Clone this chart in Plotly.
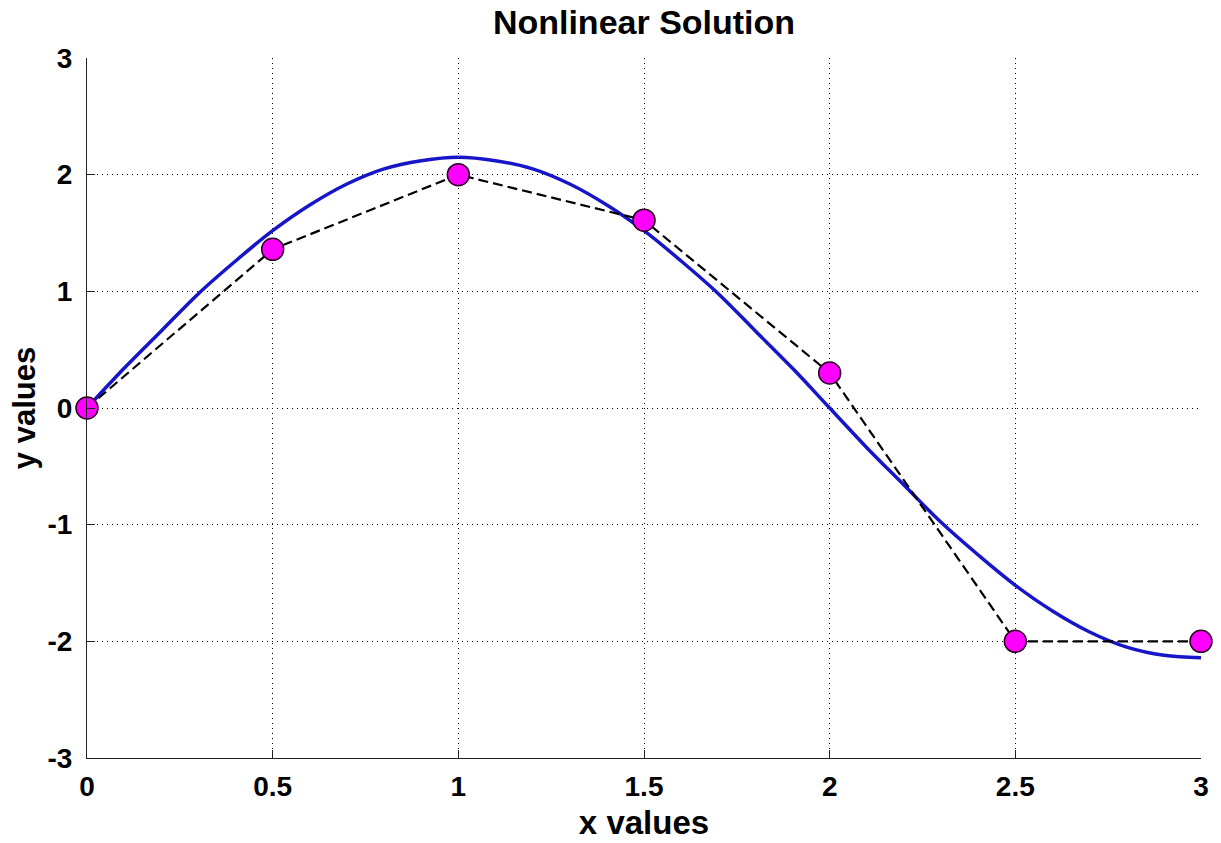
import plotly.graph_objects as go

# Data points (markers + dashed line)
pts_x = [0, 0.5, 1.0, 1.5, 2.0, 2.5, 3.0]
pts_y = [0.0, 1.36, 2.0, 1.61, 0.30, -2.0, -2.0]

# Smooth blue solution curve
curve_x = [0.0, 0.1, 0.2, 0.3, 0.4, 0.5, 0.6, 0.7, 0.8, 0.9, 1.0,
           1.1, 1.2, 1.3, 1.4, 1.5, 1.6, 1.7, 1.8, 1.9, 2.0,
           2.1, 2.2, 2.3, 2.4, 2.5, 2.6, 2.7, 2.8, 2.9, 3.0]
curve_y = [0.0, 0.34, 0.66, 0.98, 1.26, 1.52, 1.74, 1.92, 2.05, 2.12, 2.15,
           2.12, 2.05, 1.92, 1.74, 1.52, 1.26, 0.98, 0.66, 0.34, 0.0,
           -0.34, -0.66, -0.98, -1.26, -1.52, -1.74, -1.92, -2.05, -2.12, -2.14]

x_ticks = [0, 0.5, 1, 1.5, 2, 2.5, 3]
x_ticklabels = ["0", "0.5", "1", "1.5", "2", "2.5", "3"]
y_ticks = [-3, -2, -1, 0, 1, 2, 3]
y_ticklabels = ["-3", "-2", "-1", "0", "1", "2", "3"]

FONT = "Liberation Sans, Arial, sans-serif"

fig = go.Figure()
fig.add_trace(go.Scatter(
    x=curve_x, y=curve_y, mode="lines",
    line=dict(color="#1616c8", width=3.5, shape="spline"),
    showlegend=False, hoverinfo="skip", cliponaxis=False,
))
fig.add_trace(go.Scatter(
    x=pts_x, y=pts_y, mode="lines+markers",
    line=dict(color="black", width=2.2, dash="10px,5px"),
    marker=dict(size=22, color="#ff00ff", line=dict(color="#2a0020", width=1.5)),
    showlegend=False, cliponaxis=False,
))

axis_common = dict(
    showgrid=True, gridcolor="black", gridwidth=1, griddash="1px,4px",
    zeroline=False, showline=True, linecolor="#222222", linewidth=1,
    ticks="inside", ticklen=8, tickcolor="#222222", tickwidth=1,
    tickfont=dict(family=FONT, size=28, color="black", weight="bold"),
    mirror=False, automargin=False,
)

fig.update_layout(
    width=1221, height=843,
    margin=dict(l=87, r=20, t=58, b=85),
    paper_bgcolor="white", plot_bgcolor="white",
    font=dict(family=FONT, color="black"),
    title=dict(text="<b>Nonlinear Solution</b>", x=0.5, xref="paper",
               y=1 - 22 / 843, yref="container", yanchor="middle",
               font=dict(family=FONT, size=34, color="black")),
    xaxis=dict(range=[0, 3], tickvals=x_ticks, ticktext=x_ticklabels,
               ticklabelstandoff=3,
               title=dict(text="<b>x values</b>", standoff=10,
                          font=dict(family=FONT, size=33, color="black")),
               **axis_common),
    yaxis=dict(range=[-3, 3], tickvals=y_ticks, ticktext=y_ticklabels,
               ticklabelstandoff=8,
               title=dict(text="<b>y values</b>", standoff=2,
                          font=dict(family=FONT, size=31, color="black")),
               **axis_common),
)

fig.write_html("out.html")
